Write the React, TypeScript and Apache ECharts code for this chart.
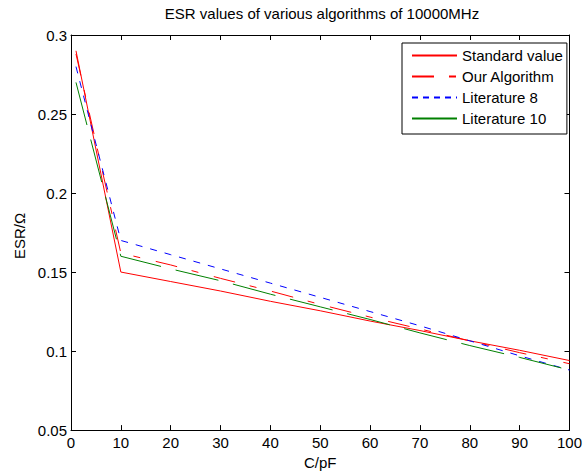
import React, { useEffect, useRef } from "react";
import * as echarts from "echarts";

const xValues = [1, 10, 20, 30, 40, 50, 60, 70, 80, 90, 100];
const standardValue = [0.29, 0.15, 0.144, 0.138, 0.1315, 0.1255, 0.119, 0.113, 0.1065, 0.1005, 0.094];
const ourAlgorithm = [0.288, 0.162, 0.1545, 0.146, 0.138, 0.1295, 0.1215, 0.114, 0.1065, 0.099, 0.092];
const literature8 = [0.28, 0.17, 0.161, 0.152, 0.143, 0.134, 0.125, 0.116, 0.1065, 0.097, 0.088];
const literature10 = [0.27, 0.16, 0.152, 0.1445, 0.136, 0.128, 0.12, 0.1115, 0.1035, 0.096, 0.088];
const seriesNames = ["Standard value", "Our Algorithm", "Literature 8", "Literature 10"];

const FONT = "Liberation Sans, Arial, sans-serif";

export default function App() {
  const ref = useRef<HTMLDivElement>(null);
  useEffect(() => {
    document.body.style.margin = "0";
    const chart = echarts.init(ref.current!, null, { renderer: "svg" });
    const pair = (vals: number[]) => xValues.map((x, i) => [x, vals[i]]);
    const axisCommon = {
      axisLine: { show: true, onZero: false, lineStyle: { color: "#000", width: 1 } },
      axisTick: { show: true, inside: true, length: 5, lineStyle: { color: "#000", width: 1 } },
      splitLine: { show: false },
    };
    const mkSeries = (name: string, vals: number[], color: string, type: any) => ({
      name,
      type: "line",
      data: pair(vals),
      symbol: "none",
      showSymbol: false,
      lineStyle: { color, width: 1, type },
      itemStyle: { color },
      xAxisIndex: 0,
      yAxisIndex: 0,
    });
    const hidden = { opacity: 0, borderWidth: 0 };
    chart.setOption({
      animation: false,
      backgroundColor: "#fff",
      textStyle: { fontFamily: FONT },
      grid: { left: 71, right: 11, top: 35, bottom: 42 },
      xAxis: [
        {
          type: "value", min: 0, max: 100, interval: 10, position: "bottom",
          ...axisCommon,
          axisLabel: { color: "#000", fontSize: 15, fontFamily: FONT, margin: 5 },
          name: "C/pF", nameLocation: "middle", nameGap: 24,
          nameTextStyle: { color: "#000", fontSize: 15, fontFamily: FONT },
        },
        {
          type: "value", min: 0, max: 100, interval: 10, position: "top",
          ...axisCommon,
          axisLabel: { show: false },
        },
      ],
      yAxis: [
        {
          type: "value", min: 0.05, max: 0.3, interval: 0.05, position: "left",
          ...axisCommon,
          axisLabel: { color: "#000", fontSize: 15, fontFamily: FONT, margin: 4 },
        },
        {
          type: "value", min: 0.05, max: 0.3, interval: 0.05, position: "right",
          ...axisCommon,
          axisLabel: { show: false },
        },
      ],
      legend: {
        orient: "vertical",
        left: 402,
        top: 43,
        backgroundColor: "#fff",
        borderColor: "#000",
        borderWidth: 1,
        borderRadius: 0,
        padding: [5, 4, 8, 9],
        itemWidth: 45,
        itemHeight: 14,
        itemGap: 6,
        itemStyle: hidden,
        textStyle: { color: "#000", fontSize: 15, fontFamily: FONT },
        data: [
          { name: seriesNames[0], itemStyle: hidden },
          { name: seriesNames[1], itemStyle: hidden },
          { name: seriesNames[2], itemStyle: hidden, lineStyle: { type: [6, 5] } },
          { name: seriesNames[3], itemStyle: hidden, lineStyle: { type: "solid" } },
        ],
      },
      graphic: [
        {
          type: "text", x: 322, y: 13,
          style: { text: "ESR values of various algorithms of 10000MHz", align: "center", verticalAlign: "middle", fontSize: 15, fontFamily: FONT, fill: "#000" },
        },
        {
          type: "text", x: 19, y: 236, rotation: Math.PI / 2,
          style: { text: "ESR/Ω", align: "center", verticalAlign: "middle", fontSize: 15, fontFamily: FONT, fill: "#000" },
        },
      ],
      series: [
        mkSeries(seriesNames[0], standardValue, "#ff0000", "solid"),
        mkSeries(seriesNames[1], ourAlgorithm, "#ff0000", [22, 15, 7, 16]),
        mkSeries(seriesNames[2], literature8, "#0000ff", [7, 8]),
        mkSeries(seriesNames[3], literature10, "#008000", [44, 15]),
      ],
    });
    return () => chart.dispose();
  }, []);
  return <div ref={ref} style={{ width: 585, height: 475 }} />;
}
